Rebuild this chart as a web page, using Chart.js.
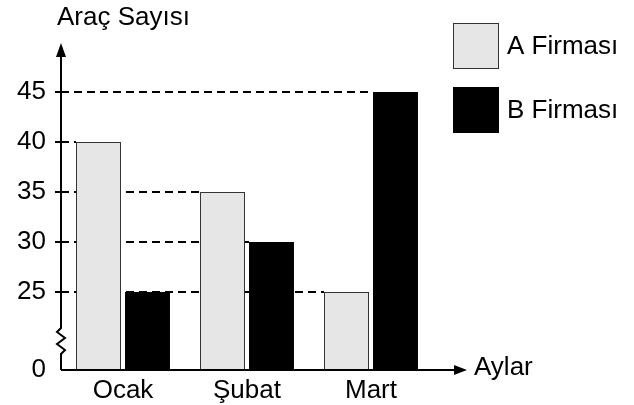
<!DOCTYPE html>
<html>
<head>
<meta charset="utf-8">
<script src="https://cdn.jsdelivr.net/npm/chart.js@4"></script>
<style>
  html, body { margin: 0; padding: 0; background: #fff; }
  #wrap { width: 634px; height: 405px; }
</style>
</head>
<body>
<div id="wrap"><canvas id="chart" width="634" height="405"></canvas></div>
<script>
// =======================
// DATA
// =======================
const months = ["Ocak", "Şubat", "Mart"];
const firmaA = [40, 35, 25];
const firmaB = [25, 30, 45];
const seriesNames = ["A Firması", "B Firması"];
const yTicks = [0, 25, 30, 35, 40, 45];
const yTitle = "Araç Sayısı";
const xTitle = "Aylar";

// kırık eksen: 25 ve üstü kaydırılır
const BREAK_VALUE = 25;
const BREAK_POS = 7.8;
function toAxis(v) {
  return v <= 0 ? 0 : v - BREAK_VALUE + BREAK_POS;
}

const FONT = "26px 'Liberation Sans', Arial, sans-serif";
const colorA = "#e6e6e6";
const colorB = "#000000";

// =======================
// PLUGIN – eksenler, kesik çizgiler, lejant
// =======================
const drawExtras = {
  id: "drawExtras",
  beforeDatasetsDraw(chart) {
    const ctx = chart.ctx;
    const y = chart.scales.y;
    const left = chart.chartArea.left;
    ctx.save();
    ctx.strokeStyle = "#000";
    ctx.lineWidth = 2;
    ctx.setLineDash([8, 5]);
    yTicks.forEach(v => {
      if (v <= 0) return;
      let endX = null;
      chart.data.datasets.forEach((ds, di) => {
        const meta = chart.getDatasetMeta(di);
        ds.raw.forEach((val, i) => {
          if (val === v) {
            const bar = meta.data[i];
            const bx = bar.x - bar.width / 2;
            if (endX === null || bx > endX) endX = bx;
          }
        });
      });
      if (endX === null) return;
      const py = Math.round(y.getPixelForValue(toAxis(v)));
      ctx.beginPath();
      ctx.moveTo(left, py);
      ctx.lineTo(endX, py);
      ctx.stroke();
    });
    ctx.restore();
  },
  afterDatasetsDraw(chart) {
    const ctx = chart.ctx;
    const { left, bottom, top } = chart.chartArea;
    const y = chart.scales.y;
    ctx.save();
    ctx.strokeStyle = "#000";
    ctx.fillStyle = "#000";
    ctx.lineWidth = 2;
    ctx.lineJoin = "miter";

    // y ekseni + kırılma
    ctx.beginPath();
    ctx.moveTo(left, bottom);
    ctx.lineTo(left, bottom - 16);
    ctx.lineTo(left + 4, bottom - 20);
    ctx.lineTo(left - 4, bottom - 26);
    ctx.lineTo(left + 4, bottom - 32);
    ctx.lineTo(left - 4, bottom - 38);
    ctx.lineTo(left, bottom - 42);
    ctx.lineTo(left, top - 5);
    ctx.stroke();
    ctx.beginPath();
    ctx.moveTo(left, top - 17);
    ctx.lineTo(left - 5, top - 3);
    ctx.lineTo(left + 5, top - 3);
    ctx.closePath();
    ctx.fill();

    // x ekseni
    const xEnd = 467;
    ctx.beginPath();
    ctx.moveTo(left, bottom);
    ctx.lineTo(xEnd - 10, bottom);
    ctx.stroke();
    ctx.beginPath();
    ctx.moveTo(xEnd, bottom);
    ctx.lineTo(xEnd - 13, bottom - 5);
    ctx.lineTo(xEnd - 13, bottom + 5);
    ctx.closePath();
    ctx.fill();

    // tik çizgileri
    yTicks.forEach(v => {
      if (v <= 0) return;
      const py = Math.round(y.getPixelForValue(toAxis(v)));
      ctx.beginPath();
      ctx.moveTo(left - 6, py);
      ctx.lineTo(left + 6, py);
      ctx.stroke();
    });

    // başlıklar
    ctx.font = FONT;
    ctx.textBaseline = "middle";
    ctx.textAlign = "left";
    ctx.fillText(yTitle, 57, 18);
    ctx.fillText(xTitle, 474, 368);

    // lejant
    const boxes = [
      { y: 23, fill: colorA, stroke: "#333" },
      { y: 87, fill: colorB, stroke: "#000" }
    ];
    boxes.forEach((b, i) => {
      ctx.fillStyle = b.fill;
      ctx.fillRect(453, b.y, 46, 46);
      ctx.lineWidth = 1;
      ctx.strokeStyle = b.stroke;
      ctx.strokeRect(453.5, b.y + 0.5, 45, 45);
      ctx.fillStyle = "#000";
      ctx.fillText(seriesNames[i], 507, b.y + 24);
    });
    ctx.restore();
  }
};

// =======================
// CHART
// =======================
window.addEventListener("DOMContentLoaded", () => {
  const ctx = document.getElementById("chart").getContext("2d");

  new Chart(ctx, {
    type: "bar",
    data: {
      labels: months,
      datasets: [
        {
          label: seriesNames[0],
          raw: firmaA,
          data: firmaA.map(toAxis),
          backgroundColor: colorA,
          borderColor: "#333",
          borderWidth: 1,
          borderSkipped: "bottom"
        },
        {
          label: seriesNames[1],
          raw: firmaB,
          data: firmaB.map(toAxis),
          backgroundColor: colorB,
          borderColor: "#000",
          borderWidth: 0
        }
      ]
    },
    options: {
      responsive: false,
      animation: false,
      devicePixelRatio: 1,
      layout: { padding: { top: 60, right: 201, left: 0, bottom: 0 } },
      datasets: {
        bar: { categoryPercentage: 0.79, barPercentage: 0.918 }
      },
      plugins: {
        legend: { display: false },
        tooltip: { enabled: false }
      },
      scales: {
        x: {
          grid: { display: false },
          border: { display: false },
          ticks: {
            color: "#000",
            font: { family: "'Liberation Sans', Arial, sans-serif", size: 26 },
            padding: -3,
            maxRotation: 0
          },
          afterFit(scale) { scale.height = 35; }
        },
        y: {
          min: 0,
          max: 31,
          grid: { display: false },
          border: { display: false },
          afterBuildTicks(scale) {
            scale.ticks = yTicks.map(v => ({ value: toAxis(v) }));
          },
          ticks: {
            color: "#000",
            font: { family: "'Liberation Sans', Arial, sans-serif", size: 26 },
            padding: 7,
            callback: (val, i) => yTicks[i]
          },
          afterFit(scale) { scale.width = 61; }
        }
      }
    },
    plugins: [drawExtras]
  });
});
</script>
</body>
</html>
